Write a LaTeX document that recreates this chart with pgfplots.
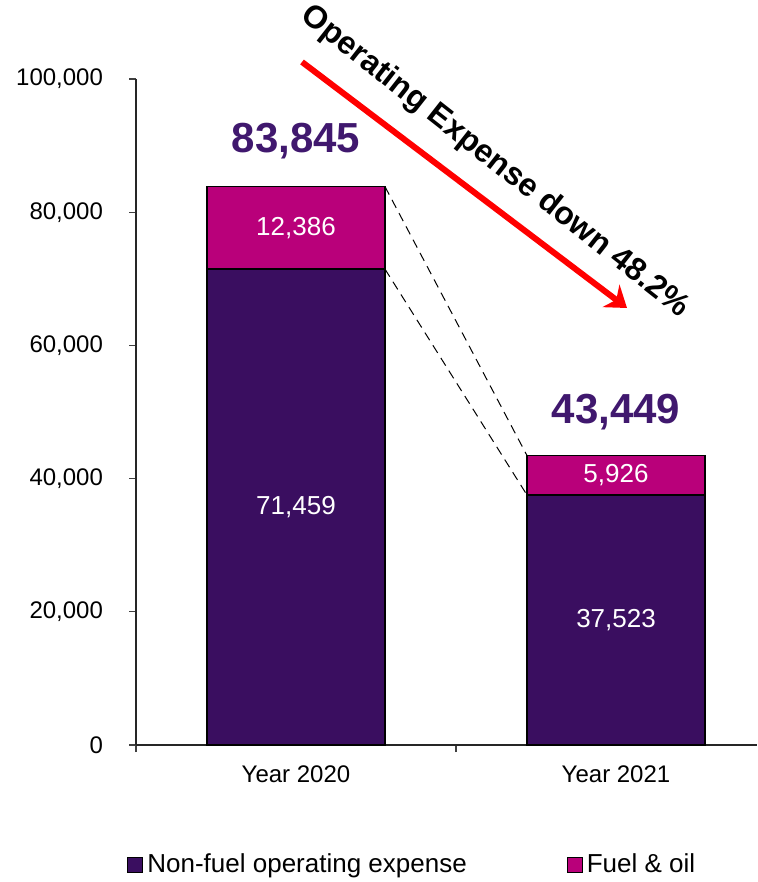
\documentclass[border=0pt]{standalone}
\usepackage{fontspec}
\setmainfont{Liberation Sans}
\usepackage{pgfplots}
\pgfplotsset{compat=1.18}
\usetikzlibrary{arrows.meta}
\definecolor{nonfuel}{HTML}{3A0E60}
\definecolor{fuel}{HTML}{B9007A}
\definecolor{totalc}{HTML}{40186E}
\begin{document}
\begin{tikzpicture}
\useasboundingbox (0,0) rectangle (378.5pt,441pt);
\begin{axis}[
  at={(68pt,68.5pt)}, anchor=south west,
  scale only axis, width=310.5pt, height=333pt,
  ybar stacked, bar width=89pt,
  xmin=-0.5, xmax=1.4406, ymin=0, ymax=100000,
  axis x line=bottom, axis y line=left,
  axis line style={-, line width=0.6pt, black!85},
  tick align=outside,
  xtick={0,1}, xticklabels={Year 2020, Year 2021},
  major x tick style={draw=none},
  minor xtick={-0.5,0.5}, minor tick length=3.5pt,
  ytick={0,20000,40000,60000,80000,100000},
  yticklabels={0,{20,000},{40,000},{60,000},{80,000},{100,000}},
  major tick length=3.5pt,
  tick style={black!75, line width=0.6pt},
  scaled y ticks=false,
  ticklabel style={font=\fontsize{12}{14}\selectfont},
  yticklabel style={xshift=-9.5pt},
  xticklabel style={yshift=-3.5pt},
  clip=false,
  legend style={at={(-0.0145,-0.1802)}, anchor=west, draw=none, inner sep=0pt,
    font=\fontsize{13}{15}\selectfont, legend columns=2,
    /tikz/every even column/.append style={column sep=48pt}},
  legend cell align=left,
  legend image code/.code={\draw[#1,draw=black,line width=0.5pt] (0pt,-3.75pt) rectangle (7.5pt,3.75pt);},
]
%% Non-fuel operating expense
\addplot[fill=nonfuel, draw=black, line width=0.6pt] coordinates {(0,71459) (1,37523)};
%% Fuel & oil
\addplot[fill=fuel, draw=black, line width=0.6pt] coordinates {(0,12386) (1,5926)};
\legend{Non-fuel operating expense, Fuel \& oil}
%% segment centres, labelled after the axis so the text sits on top of the bars
\coordinate (a1) at (axis cs:0,35729.5);
\coordinate (a2) at (axis cs:0,77652);
\coordinate (b1) at (axis cs:1,18761.5);
\coordinate (b2) at (axis cs:1,40486);
%% totals
\node[totalc, anchor=base, font=\bfseries\fontsize{21}{25}\selectfont] at (axis cs:0,88889) {83,845};
\node[totalc, anchor=base, font=\bfseries\fontsize{21}{25}\selectfont] at (axis cs:1,48198) {43,449};
%% connectors
\draw[black, line width=0.5pt, dash pattern=on 4.5pt off 3pt] (axis cs:0.278,83845) -- (axis cs:0.722,43449);
\draw[black, line width=0.5pt, dash pattern=on 4.5pt off 3pt] (axis cs:0.278,71459) -- (axis cs:0.722,37523);
\end{axis}
\foreach \c/\t in {a1/{71,459}, a2/{12,386}, b1/{37,523}, b2/{5,926}}
  \node[white, font=\fontsize{13}{15}\selectfont] at (\c) {\t};
\draw[red, line width=3pt, -{Stealth[length=10pt,width=14pt]}] (151pt,410pt) -- (313.5pt,287pt);
\node[rotate=-38.2, font=\bfseries\fontsize{16}{19}\selectfont] at (247.5pt,360pt) {Operating Expense down 48.2\%};
\end{tikzpicture}
\end{document}
